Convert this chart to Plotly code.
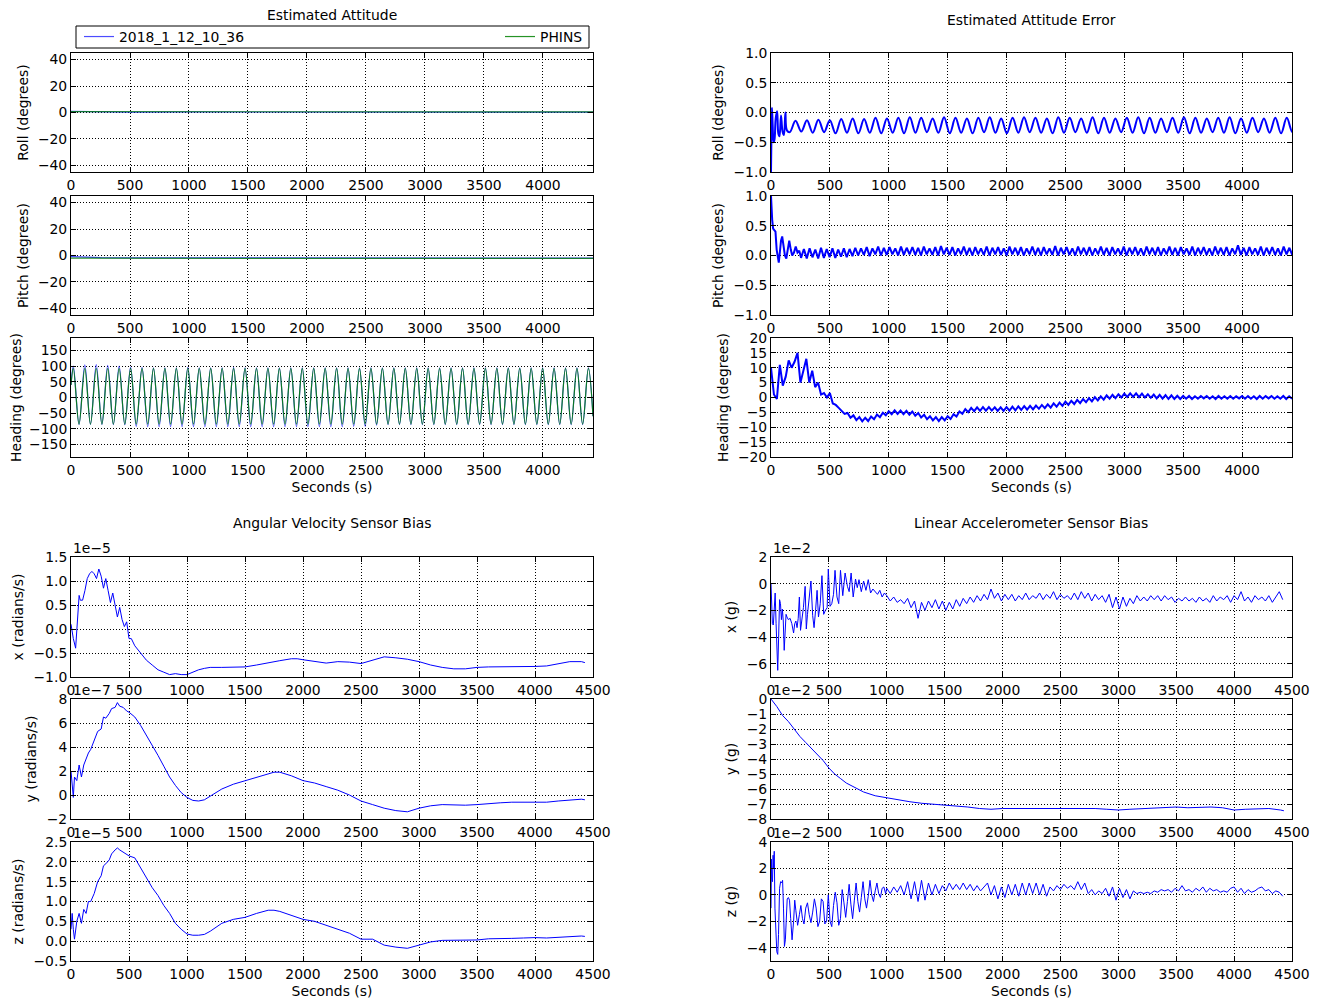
import plotly.graph_objects as go

# The page has an 8px body margin; the figure runs to the window's right/bottom edges.
PAGE_W, PAGE_H, BODY = 1321, 1001, 8
W, H = PAGE_W - BODY, PAGE_H - BODY
FONT = "DejaVu Sans"
FS = 13.9
BLUE = "#0000ff"
GREEN = "#008000"

# ---------------- Estimated attitude (degrees) ----------------
att_t = [0, 250, 500, 1000, 1500, 2000, 2500, 3000, 3500, 4000, 4424]
roll_est = [0.8, 0.4, 0.3, 0.4, 0.3, 0.3, 0.3, 0.3, 0.2, 0.3, 0.3]
roll_phins = [0.6, 0.6, 0.5, 0.6, 0.5, 0.5, 0.5, 0.5, 0.4, 0.5, 0.5]
pitch_est = [-0.8, -1.6, -1.8, -1.9, -1.9, -2.0, -2.0, -2.0, -2.0, -2.0, -2.0]
pitch_phins = [-2.0, -2.1, -2.1, -2.1, -2.1, -2.1, -2.1, -2.1, -2.1, -2.1, -2.1]

hdg_start_t, hdg_end_t = 0, 4424
hdg_start_est, hdg_end_est = 40, -60
hdg_start_phins, hdg_end_phins = 40, -60
hdg_peak_t = [20, 117, 214, 311, 408, 505, 602, 699, 796, 893, 990, 1087, 1184, 1281, 1378,
              1475, 1572, 1669, 1766, 1863, 1960, 2057, 2154, 2251, 2348, 2445, 2542, 2639,
              2736, 2833, 2930, 3027, 3124, 3221, 3318, 3415, 3512, 3609, 3706, 3803, 3900,
              3997, 4094, 4191, 4288, 4385]
hdg_trough_t = [68, 165, 262, 359, 456, 553, 650, 747, 844, 941, 1038, 1135, 1232, 1329, 1426,
                1523, 1620, 1717, 1814, 1911, 2008, 2105, 2202, 2299, 2396, 2493, 2590, 2687,
                2784, 2881, 2978, 3075, 3172, 3269, 3366, 3463, 3560, 3657, 3754, 3851, 3948,
                4045, 4142, 4239, 4336]
hdg_peak_est = [100, 104, 105, 103, 100, 97, 96, 95, 95, 95, 96, 95, 95, 95, 96, 95, 95, 95,
                95, 95, 95, 95, 95, 95, 95, 95, 95, 95, 95, 95, 95, 95, 95, 95, 95, 95, 95, 95,
                95, 95, 95, 95, 95, 95, 95, 95]
hdg_trough_est = [-86, -86, -86, -87, -87, -92, -93, -93, -93, -93, -93, -93, -93, -93, -93,
                  -93, -93, -93, -93, -93, -93, -93, -93, -93, -92, -92, -88, -87, -87, -87,
                  -87, -87, -87, -87, -87, -87, -87, -87, -87, -87, -87, -87, -87, -87, -87]
hdg_peak_phins = [93] * 46
hdg_trough_phins = [-85] * 45

# ---------------- Estimated attitude error (degrees) ----------------
roll_err_head_t = [0, 3, 8, 14, 22, 30, 40, 52, 62, 72, 85, 98, 110, 122, 135]
roll_err_head_v = [-1.0, -0.5, 0.08, -0.2, -0.5, -0.45, -0.1, 0.02, -0.35, -0.4, -0.05, -0.32,
                   -0.38, 0.0, -0.3]
roll_err_start, roll_err_step = 160, 48.5   # alternating trough / crest of each swing
roll_err_v = [
    -0.33, -0.14, -0.32, -0.13, -0.34, -0.12, -0.33, -0.13, -0.35, -0.11,
    -0.34, -0.10, -0.35, -0.11, -0.34, -0.09, -0.35, -0.10, -0.34, -0.09,
    -0.35, -0.08, -0.34, -0.09, -0.33, -0.10, -0.34, -0.08, -0.35, -0.09,
    -0.34, -0.10, -0.35, -0.09, -0.33, -0.08, -0.34, -0.10, -0.35, -0.09,
    -0.34, -0.08, -0.33, -0.09, -0.34, -0.10, -0.35, -0.08, -0.34, -0.09,
    -0.33, -0.10, -0.34, -0.08, -0.35, -0.09, -0.34, -0.10, -0.33, -0.09,
    -0.34, -0.08, -0.35, -0.09, -0.34, -0.10, -0.33, -0.09, -0.34, -0.08,
    -0.35, -0.09, -0.34, -0.10, -0.33, -0.09, -0.34, -0.08, -0.35, -0.10,
    -0.34, -0.09, -0.33, -0.10, -0.34, -0.09, -0.35, -0.09, -0.33, -0.10,
]

pitch_err_head_t = [0, 4, 10, 18, 28, 38, 48, 58, 66, 75, 85, 95, 105, 118, 130, 142, 155, 168,
                    180, 195, 210, 225, 240]
pitch_err_head_v = [1.0, 0.8, 0.6, 0.45, 0.43, 0.4, 0.1, -0.05, -0.12, 0.05, 0.25, 0.32, 0.2,
                    0.0, -0.05, 0.1, 0.25, 0.1, 0.0, 0.05, 0.15, 0.05, 0.08]
pitch_err_start, pitch_err_step = 255, 24.25
pitch_err_v = [
    -0.04, 0.11, -0.05, 0.12, -0.03, 0.10, -0.05, 0.13, -0.04, 0.11, -0.03, 0.12, -0.04, 0.10, -0.02, 0.12, -0.03, 0.11, -0.01, 0.13,
    0.00, 0.12, 0.01, 0.14, -0.01, 0.12, 0.02, 0.15, 0.00, 0.13, 0.01, 0.14, 0.02, 0.12, 0.00, 0.15, 0.01, 0.13, 0.02, 0.14,
    0.01, 0.13, 0.00, 0.15, 0.02, 0.12, 0.01, 0.14, 0.00, 0.16, 0.02, 0.13, 0.01, 0.14, 0.00, 0.12, 0.02, 0.15, 0.01, 0.13,
    0.00, 0.14, 0.02, 0.12, 0.01, 0.15, 0.00, 0.13, 0.02, 0.14, 0.01, 0.12, 0.00, 0.15, 0.02, 0.13, 0.01, 0.14, 0.00, 0.12,
    0.02, 0.15, 0.01, 0.13, 0.00, 0.14, 0.02, 0.12, 0.01, 0.16, 0.00, 0.13, 0.02, 0.14, 0.01, 0.12, 0.00, 0.15, 0.02, 0.13,
    0.01, 0.14, 0.00, 0.12, 0.02, 0.15, 0.01, 0.13, 0.00, 0.14, 0.02, 0.12, 0.01, 0.15, 0.00, 0.13, 0.02, 0.14, 0.01, 0.12,
    0.00, 0.15, 0.02, 0.13, 0.01, 0.14, 0.00, 0.12, 0.02, 0.15, 0.01, 0.13, 0.00, 0.14, 0.02, 0.12, 0.01, 0.15, 0.00, 0.13,
    0.02, 0.14, 0.01, 0.12, 0.00, 0.15, 0.02, 0.13, 0.01, 0.14, 0.00, 0.12, 0.02, 0.17, 0.01, 0.13, 0.00, 0.14, 0.02, 0.12,
    0.01, 0.15, 0.00, 0.13, 0.02, 0.14, 0.01, 0.12, 0.00, 0.15, 0.02, 0.13, 0.01, 0.14, 0.00, 0.12, 0.02, 0.15, 0.01, 0.13,
]

heading_err_step = 25
heading_err_v = [
    10, 1, -0.5, 11, 4, 7, 12.5, 10, 12, 15,
    5, 9, 13, 5, 9, 3.5, 5, 1, 1.5, 0,
    1.5, -2, -2.5, -3.5, -4.5, -5.5, -5.2, -6.8, -6.0, -7.6,
    -6.6, -8.0, -6.8, -7.9, -6.4, -7.3, -5.7, -6.6, -5.1, -6.0,
    -4.6, -5.6, -4.3, -5.5, -4.4, -5.6, -4.5, -5.8, -4.7, -6.1,
    -5.2, -6.7, -5.8, -7.3, -6.3, -7.7, -6.6, -7.9, -6.6, -7.7,
    -6.3, -7.2, -5.6, -6.4, -4.7, -5.5, -3.9, -4.9, -3.5, -4.6,
    -3.3, -4.5, -3.2, -4.4, -3.2, -4.4, -3.3, -4.5, -3.3, -4.5,
    -3.2, -4.4, -3.1, -4.3, -3.0, -4.2, -2.9, -4.1, -2.8, -4.0,
    -2.7, -3.8, -2.5, -3.6, -2.3, -3.4, -2.0, -3.1, -1.7, -2.8,
    -1.4, -2.5, -1.1, -2.2, -0.8, -1.9, -0.5, -1.6, -0.2, -1.3,
    0.1, -1.0, 0.4, -0.7, 0.7, -0.4, 0.9, -0.2, 1.1, 0.0,
    1.3, 0.2, 1.4, 0.2, 1.4, 0.1, 1.3, 0.0, 1.1, -0.1,
    1.0, -0.3, 0.9, -0.4, 0.8, -0.5, 0.7, -0.5, 0.6, -0.5,
    0.5, -0.4, 0.5, -0.5, 0.4, -0.4, 0.5, -0.3, 0.5, -0.4,
    0.4, -0.5, 0.5, -0.4, 0.4, -0.4, 0.5, -0.4, 0.4, -0.3,
    0.5, -0.4, 0.5, -0.4, 0.4, -0.5, 0.5, -0.4, 0.5, -0.3,
    0.5, -0.4, 0.4, -0.4, 0.5, -0.5, 0.4, -0.4,
]

# ---------------- Angular velocity sensor bias ----------------
ang_x_t = [0, 20, 40, 60, 70, 80, 100, 120, 140, 160, 180, 200, 220, 240, 260, 280, 300, 320,
           340, 360, 380, 400, 420, 440, 460, 480, 500, 520, 550, 600, 650, 700, 750, 800, 850,
           900, 950, 1000, 1050, 1100, 1150, 1200, 1300, 1400, 1500, 1600, 1700, 1800, 1900,
           1950, 2000, 2100, 2200, 2300, 2400, 2500, 2600, 2700, 2800, 2900, 3000, 3100, 3200,
           3300, 3400, 3500, 3600, 3700, 3800, 3900, 4000, 4100, 4200, 4300, 4400, 4430]
ang_x_v = [0.1, -0.2, -0.4, 0.3, 0.7, 0.6, 0.6, 0.8, 1.05, 1.15,
           1.2, 1.15, 1.05, 1.25, 1.1, 0.85, 1.05, 0.8, 0.55, 0.75,
           0.5, 0.25, 0.45, 0.2, 0.05, 0.15, -0.2, -0.2, -0.35, -0.5,
           -0.65, -0.75, -0.85, -0.9, -0.95, -0.93, -0.95, -0.95, -0.9, -0.85,
           -0.82, -0.8, -0.8, -0.8, -0.79, -0.75, -0.7, -0.66, -0.62, -0.62,
           -0.64, -0.68, -0.71, -0.68, -0.69, -0.72, -0.65, -0.58, -0.6, -0.63,
           -0.68, -0.75, -0.8, -0.83, -0.83, -0.8, -0.79, -0.79, -0.78, -0.79,
           -0.78, -0.77, -0.72, -0.68, -0.68, -0.7]
ang_yz_t = [0, 10, 20, 30, 50, 70, 90, 110, 130, 150, 170, 200, 230, 260, 280, 300, 330, 350,
            380, 400, 420, 450, 480, 500, 550, 600, 650, 700, 750, 800, 850, 900, 950, 1000,
            1050, 1100, 1150, 1200, 1300, 1400, 1500, 1600, 1700, 1750, 1800, 1900, 2000, 2100,
            2200, 2300, 2400, 2500, 2600, 2700, 2800, 2900, 3000, 3100, 3200, 3300, 3400, 3500,
            3600, 3700, 3800, 3900, 4000, 4100, 4200, 4300, 4400, 4430]
ang_y_v = [2.0, 0.5, -0.2, 1.5, 1.2, 2.5, 1.5, 2.5, 3.0, 3.5,
           3.8, 4.5, 5.3, 5.5, 6.5, 6.4, 6.8, 7.2, 7.3, 7.7,
           7.4, 7.3, 7.0, 6.9, 6.5, 5.8, 5.0, 4.2, 3.3, 2.4,
           1.5, 0.8, 0.2, -0.2, -0.45, -0.5, -0.4, -0.1, 0.5, 0.9,
           1.2, 1.5, 1.8, 1.9, 1.9, 1.6, 1.2, 1.0, 0.7, 0.4,
           0.0, -0.5, -0.8, -1.1, -1.3, -1.4, -1.1, -0.9, -0.8, -0.85,
           -0.85, -0.8, -0.7, -0.65, -0.6, -0.6, -0.6, -0.6, -0.5, -0.4,
           -0.35, -0.4]
ang_z_v = [0.3, 0.7, 0.3, 0.05, 0.5, 0.7, 0.45, 0.8, 0.7, 1.0,
           1.0, 1.2, 1.5, 1.65, 1.9, 1.95, 2.05, 2.2, 2.3, 2.35,
           2.3, 2.25, 2.2, 2.15, 2.1, 1.85, 1.6, 1.35, 1.15, 0.9,
           0.7, 0.45, 0.3, 0.18, 0.15, 0.15, 0.17, 0.25, 0.45, 0.55,
           0.6, 0.7, 0.78, 0.78, 0.75, 0.65, 0.55, 0.5, 0.4, 0.3,
           0.2, 0.05, 0.05, -0.1, -0.15, -0.18, -0.1, -0.02, 0.02, 0.02,
           0.02, 0.03, 0.06, 0.06, 0.07, 0.08, 0.09, 0.08, 0.1, 0.12,
           0.13, 0.12]

# ---------------- Linear accelerometer sensor bias ----------------
lin_x_head_t = [0, 5, 12, 20, 28, 36, 44, 52, 58, 66, 74, 82, 90, 98, 106, 114, 122, 130, 138,
                150, 165, 180, 195, 205, 215, 225, 235, 245, 255, 265, 280, 295, 305, 315, 330,
                345, 360, 372, 385, 398, 410, 425, 440, 455, 470, 485, 495, 510, 525, 540, 553,
                570, 585, 600, 620, 640, 660, 675, 692, 710, 730, 745, 760, 780, 800, 820, 840,
                860, 880, 900, 920, 940, 960, 980]
lin_x_head_v = [0.0, -1.2, -3.0, -3.1, -1.5, -0.7, -3.0, -5.5, -6.5, -4.0,
                -1.2, -1.5, -2.7, -1.9, -2.8, -5.0, -4.0, -2.3, -2.5, -2.7,
                -2.6, -3.0, -3.7, -3.0, -2.8, -3.3, -2.6, -1.0, -3.5, -2.8,
                -1.8, -0.2, -3.4, -2.3, -1.0, 0.2, -2.4, -3.3, -2.0, -0.5,
                -2.5, -1.5, 0.6, -2.3, -2.0, -1.8, 1.1, -1.7, -1.5, -0.8,
                1.0, -1.0, -1.5, 1.0, -0.9, 0.8, -0.2, -0.6, 0.8, -1.0,
                0.35, -0.3, 0.3, -0.6, 0.2, -0.5, 0.3, -0.7, -0.4, -0.6,
                -0.8, -0.5, -1.0, -0.7]
lin_start, lin_step = 1000, 30
lin_x_v = [-0.9, -1.3, -1.0, -1.4, -1.2, -1.5, -1.1, -1.8, -1.3, -2.6,
           -1.4, -2.0, -1.3, -1.8, -1.2, -1.9, -1.3, -2.0, -1.4, -1.9,
           -1.2, -1.7, -1.1, -1.5, -1.0, -1.4, -0.9, -1.3, -0.8, -1.2,
           -0.4, -1.1, -0.7, -1.3, -0.8, -1.2, -0.8, -1.3, -0.9, -1.2,
           -0.7, -1.2, -0.9, -1.1, -0.7, -1.2, -0.8, -1.1, -0.6, -1.2,
           -0.8, -1.1, -0.9, -1.2, -0.7, -1.2, -0.6, -1.1, -0.7, -1.3,
           -0.8, -1.2, -0.9, -1.4, -0.8, -1.8, -1.0, -1.9, -1.0, -1.7,
           -1.1, -1.5, -0.9, -1.3, -1.0, -1.3, -0.9, -1.2, -0.9, -1.3,
           -0.9, -1.2, -1.0, -1.4, -1.1, -1.3, -1.0, -1.3, -1.1, -1.4,
           -1.0, -1.3, -1.1, -1.4, -0.9, -1.3, -1.0, -1.2, -0.9, -1.4,
           -0.9, -1.2, -0.6, -1.3, -1.0, -1.4, -0.9, -1.2, -1.0, -1.3,
           -0.9, -1.4, -1.0, -0.6, -1.2]

lin_y_t = [0, 50, 100, 150, 200, 250, 300, 350, 400, 450, 500, 550, 600, 650, 700, 750, 800,
           900, 1000, 1100, 1200, 1300, 1400, 1500, 1600, 1700, 1800, 1900, 2000, 2100, 2200,
           2300, 2400, 2500, 2600, 2700, 2800, 2900, 3000, 3100, 3200, 3300, 3400, 3500, 3600,
           3700, 3800, 3900, 4000, 4100, 4200, 4300, 4400, 4430]
lin_y_v = [0, -0.5, -1.1, -1.5, -2.0, -2.5, -2.9, -3.3, -3.7, -4.1, -4.6, -5.0, -5.3, -5.6,
           -5.8, -6.0, -6.2,
           -6.45, -6.6, -6.75, -6.85, -6.95, -7.0, -7.1, -7.15, -7.2, -7.3,
           -7.35, -7.3, -7.3, -7.25, -7.25, -7.25, -7.25, -7.25, -7.25, -7.3,
           -7.35, -7.4, -7.35, -7.3, -7.25, -7.2, -7.2, -7.25, -7.2, -7.2,
           -7.25, -7.4, -7.35, -7.3, -7.3, -7.4, -7.45]

lin_z_head_t = [0, 4, 8, 13, 18, 23, 28, 34, 42, 50, 58, 65, 74, 83, 92, 100, 108, 116, 124,
                132, 140, 150, 160, 170, 182, 195, 205, 215, 230, 245, 258, 272, 285, 300, 315,
                330, 345, 360, 375, 390, 405, 420, 435, 450, 465, 480, 495, 510, 525, 540, 555,
                570, 585, 600, 615, 630, 645, 660, 675, 690, 705, 720, 735, 750, 765, 780, 795,
                810, 825, 840, 855, 870, 885, 900, 915, 930, 945, 960, 975, 990]
lin_z_head_v = [-1.0, 2.7, 1.2, 1.0, 3.0, 2.0, 3.3, -1.0, -3.5, -4.3,
                -4.5, -3.0, 0.5, 1.0, 0.9, 1.1, -1.0, -3.9, -3.4, -1.5,
                -0.3, -0.2, -0.4, -1.8, -3.4, -2.0, -0.4, -1.2, -2.3, -1.5,
                -0.8, -1.8, -2.2, -1.0, -0.6, -1.5, -2.1, -1.3, -0.3, -1.0,
                -2.4, -2.0, -0.3, -0.5, -2.2, -2.0, 0.0, -2.0, -2.4, -0.8,
                0.2, -0.6, -2.3, -1.8, 0.4, -0.6, -1.7, -0.5, 0.8, -0.7,
                -1.8, -0.4, 0.9, -0.5, -1.3, -0.2, 1.0, -0.3, -1.0, -0.1,
                1.1, 0.0, -0.5, 0.3, 0.9, 0.1, -0.2, 0.5, 0.6, 0.1]
lin_z_v = [0.5, 0.1, 0.6, 0.2, 0.7, 0.0, 1.0, -0.3, 1.0, -0.5,
           1.1, -0.4, 0.9, 0.0, 0.8, 0.1, 0.7, 0.3, 0.9, 0.4,
           0.8, 0.4, 0.9, 0.4, 0.8, 0.3, 0.7, 0.3, 0.6, 0.9,
           0.0, 0.7, -0.3, 0.6, -0.2, 0.8, 0.0, 0.8, -0.1, 0.9,
           0.0, 0.9, 0.1, 0.9, 0.0, 0.8, -0.1, 0.6, 0.3, 0.7,
           0.4, 0.8, 0.5, 0.7, 0.4, 1.0, 0.4, 0.9, 0.1, 0.4,
           0.0, 0.3, 0.1, 0.5, -0.1, 0.6, -0.4, 0.5, -0.2, 0.4,
           -0.3, 0.3, 0.1, 0.2, 0.1, 0.2, 0.1, 0.3, 0.2, 0.4,
           0.3, 0.4, 0.2, 0.5, 0.3, 0.7, 0.3, 0.4, 0.2, 0.5,
           0.3, 0.6, 0.2, 0.5, 0.3, 0.4, 0.2, 0.3, 0.2, 0.5,
           0.6, 0.2, 0.5, 0.1, 0.4, 0.2, 0.3, 0.5, 0.6, 0.3,
           0.4, 0.1, 0.3, 0.2, -0.1]


# ---------------- assemble series ----------------
def merge_extrema(t0, v0, pt, pv, tt, tv, t1, v1):
    pts = [(t0, v0)] + list(zip(pt, pv)) + list(zip(tt, tv)) + [(t1, v1)]
    pts.sort()
    return [p[0] for p in pts], [p[1] for p in pts]


def regular(start, step, vals):
    return [start + i * step for i in range(len(vals))]


hdg_t_est, hdg_v_est = merge_extrema(hdg_start_t, hdg_start_est, hdg_peak_t, hdg_peak_est,
                                     hdg_trough_t, hdg_trough_est, hdg_end_t, hdg_end_est)
hdg_t_ph, hdg_v_ph = merge_extrema(hdg_start_t, hdg_start_phins, hdg_peak_t, hdg_peak_phins,
                                   hdg_trough_t, hdg_trough_phins, hdg_end_t, hdg_end_phins)
re_t = roll_err_head_t + regular(roll_err_start, roll_err_step, roll_err_v)
re_v = roll_err_head_v + roll_err_v
pe_t = pitch_err_head_t + regular(pitch_err_start, pitch_err_step, pitch_err_v)
pe_v = pitch_err_head_v + pitch_err_v
he_t = regular(0, heading_err_step, heading_err_v)
lx_t = lin_x_head_t + regular(lin_start, lin_step, lin_x_v)
lx_v = lin_x_head_v + lin_x_v
lz_t = lin_z_head_t + regular(lin_start, lin_step, lin_z_v)
lz_v = lin_z_head_v + lin_z_v


# ---------------- layout geometry (window pixel coords) ----------------
def PX(x):
    return (x - BODY) / W


def PY(y):
    return 1 - (y - BODY) / H


COLS = {"L": (71, 593), "R": (771, 1292)}
ROWS = [(53, 172), (196, 315), (338, 457), (557, 677), (699, 819), (842, 961)]


def fmt(v, d):
    return f"{v:.{d}f}".replace("-", "\u2212")


panels = [
    (1, "L", 0, 4424, 4000, (-45, 45), [-40, -20, 0, 20, 40], 0, "Roll (degrees)", None),
    (2, "L", 1, 4424, 4000, (-45, 45), [-40, -20, 0, 20, 40], 0, "Pitch (degrees)", None),
    (3, "L", 2, 4424, 4000, (-190, 190), [-150, -100, -50, 0, 50, 100, 150], 0, "Heading (degrees)", "Seconds (s)"),
    (4, "R", 0, 4424, 4000, (-1, 1), [-1, -0.5, 0, 0.5, 1], 1, "Roll (degrees)", None),
    (5, "R", 1, 4424, 4000, (-1, 1), [-1, -0.5, 0, 0.5, 1], 1, "Pitch (degrees)", None),
    (6, "R", 2, 4424, 4000, (-20, 20), [-20, -15, -10, -5, 0, 5, 10, 15, 20], 0, "Heading (degrees)", "Seconds (s)"),
    (7, "L", 3, 4500, 4500, (-1, 1.5), [-1, -0.5, 0, 0.5, 1, 1.5], 1, "x (radians/s)", None),
    (8, "L", 4, 4500, 4500, (-2, 8), [-2, 0, 2, 4, 6, 8], 0, "y (radians/s)", None),
    (9, "L", 5, 4500, 4500, (-0.5, 2.5), [-0.5, 0, 0.5, 1, 1.5, 2, 2.5], 1, "z (radians/s)", "Seconds (s)"),
    (10, "R", 3, 4500, 4500, (-7, 2), [-6, -4, -2, 0, 2], 0, "x (g)", None),
    (11, "R", 4, 4500, 4500, (-8, 0), [-8, -7, -6, -5, -4, -3, -2, -1, 0], 0, "y (g)", None),
    (12, "R", 5, 4500, 4500, (-5, 4), [-4, -2, 0, 2, 4], 0, "z (g)", "Seconds (s)"),
]


def ref(n):
    return ("x", "y") if n == 1 else (f"x{n}", f"y{n}")


fig = go.Figure()


def add(n, t, v, color, width=1.0, opacity=1.0, name=None, legend=None, shape="linear"):
    xr, yr = ref(n)
    fig.add_trace(go.Scatter(
        x=t, y=v, mode="lines", xaxis=xr, yaxis=yr,
        line=dict(color=color, width=width, shape=shape), opacity=opacity,
        name=name, showlegend=legend is not None, legend=legend or "legend",
        hoverinfo="skip"))


add(1, att_t, roll_est, BLUE, 1.2, 0.75)
add(1, att_t, roll_phins, GREEN, 1.2, 0.8)
add(2, att_t, pitch_est, BLUE, 1.2, 0.75)
add(2, att_t, pitch_phins, GREEN, 1.2, 0.8)
add(3, hdg_t_est, hdg_v_est, BLUE, 1.2, 0.7, "2018_1_12_10_36", "legend", "spline")
add(3, hdg_t_ph, hdg_v_ph, GREEN, 1.2, 0.85, "PHINS", "legend2", "spline")
add(4, re_t, re_v, BLUE, 2.0, 1.0, shape="spline")
add(5, pe_t, pe_v, BLUE, 2.0, 1.0)
add(6, he_t, heading_err_v, BLUE, 2.0, 1.0)
add(7, ang_x_t, ang_x_v, BLUE, 1.0)
add(8, ang_yz_t, ang_y_v, BLUE, 1.0)
add(9, ang_yz_t, ang_z_v, BLUE, 1.0)
add(10, lx_t, lx_v, BLUE, 1.0)
add(11, lin_y_t, lin_y_v, BLUE, 1.0)
add(12, lz_t, lz_v, BLUE, 1.0)

layout = {}
for n, col, row, xmax, xtmax, yrng, yticks, dec, ytitle, xtitle in panels:
    x0, x1 = COLS[col]
    y0, y1 = ROWS[row]
    xr, yr = ref(n)
    common = dict(showline=True, linecolor="black", linewidth=1, mirror="ticks",
                  ticks="inside", ticklen=5, tickwidth=1, tickcolor="black",
                  showgrid=True, gridcolor="black", griddash="1px,2px", gridwidth=0.8,
                  zeroline=False, automargin=False,
                  tickfont=dict(family=FONT, size=FS, color="black"))
    xt = list(range(0, xtmax + 1, 500))
    layout["xaxis" if n == 1 else f"xaxis{n}"] = dict(
        domain=[PX(x0), PX(x1)], anchor=yr, range=[0, xmax],
        tickvals=xt, ticktext=[str(v) for v in xt],
        title=dict(text=xtitle, font=dict(family=FONT, size=FS), standoff=5) if xtitle else None,
        **common)
    layout["yaxis" if n == 1 else f"yaxis{n}"] = dict(
        domain=[PY(y1), PY(y0)], anchor=xr, range=list(yrng),
        tickvals=yticks, ticktext=[fmt(v, dec) for v in yticks],
        title=dict(text=ytitle, font=dict(family=FONT, size=FS), standoff=6),
        **common)

annotations = []
for text, cx, cy in [("Estimated Attitude", 332, 15), ("Estimated Attitude Error", 1031, 20),
                     ("Angular Velocity Sensor Bias", 332, 523),
                     ("Linear Accelerometer Sensor Bias", 1031, 523)]:
    annotations.append(dict(text=text, x=PX(cx), y=PY(cy), xref="paper", yref="paper",
                            showarrow=False, xanchor="center", yanchor="middle",
                            font=dict(family=FONT, size=FS, color="black")))
for text, x, cy in [("1e\u22125", 71, 548), ("1e\u22127", 71, 690), ("1e\u22125", 71, 833),
                    ("1e\u22122", 771, 548), ("1e\u22122", 771, 690), ("1e\u22122", 771, 833)]:
    annotations.append(dict(text=text, x=PX(x), y=PY(cy), xref="paper", yref="paper",
                            showarrow=False, xanchor="left", yanchor="middle",
                            font=dict(family=FONT, size=FS, color="black")))

fig.update_layout(
    width=W, height=H, autosize=False,
    margin=dict(l=0, r=0, t=0, b=0, pad=0, autoexpand=False),
    paper_bgcolor="white", plot_bgcolor="white",
    font=dict(family=FONT, size=FS, color="black"),
    annotations=annotations,
    shapes=[dict(type="rect", xref="paper", yref="paper", x0=PX(76), x1=PX(589),
                 y0=PY(48), y1=PY(26), line=dict(color="black", width=1))],
    legend=dict(x=PX(79), y=PY(37), xanchor="left", yanchor="middle",
                bgcolor="rgba(0,0,0,0)", borderwidth=0, orientation="h",
                font=dict(family=FONT, size=FS)),
    legend2=dict(x=PX(588), y=PY(37), xanchor="right", yanchor="middle",
                 bgcolor="rgba(0,0,0,0)", borderwidth=0, orientation="h",
                 font=dict(family=FONT, size=FS)),
    **layout,
)

fig.write_html("out.html")
